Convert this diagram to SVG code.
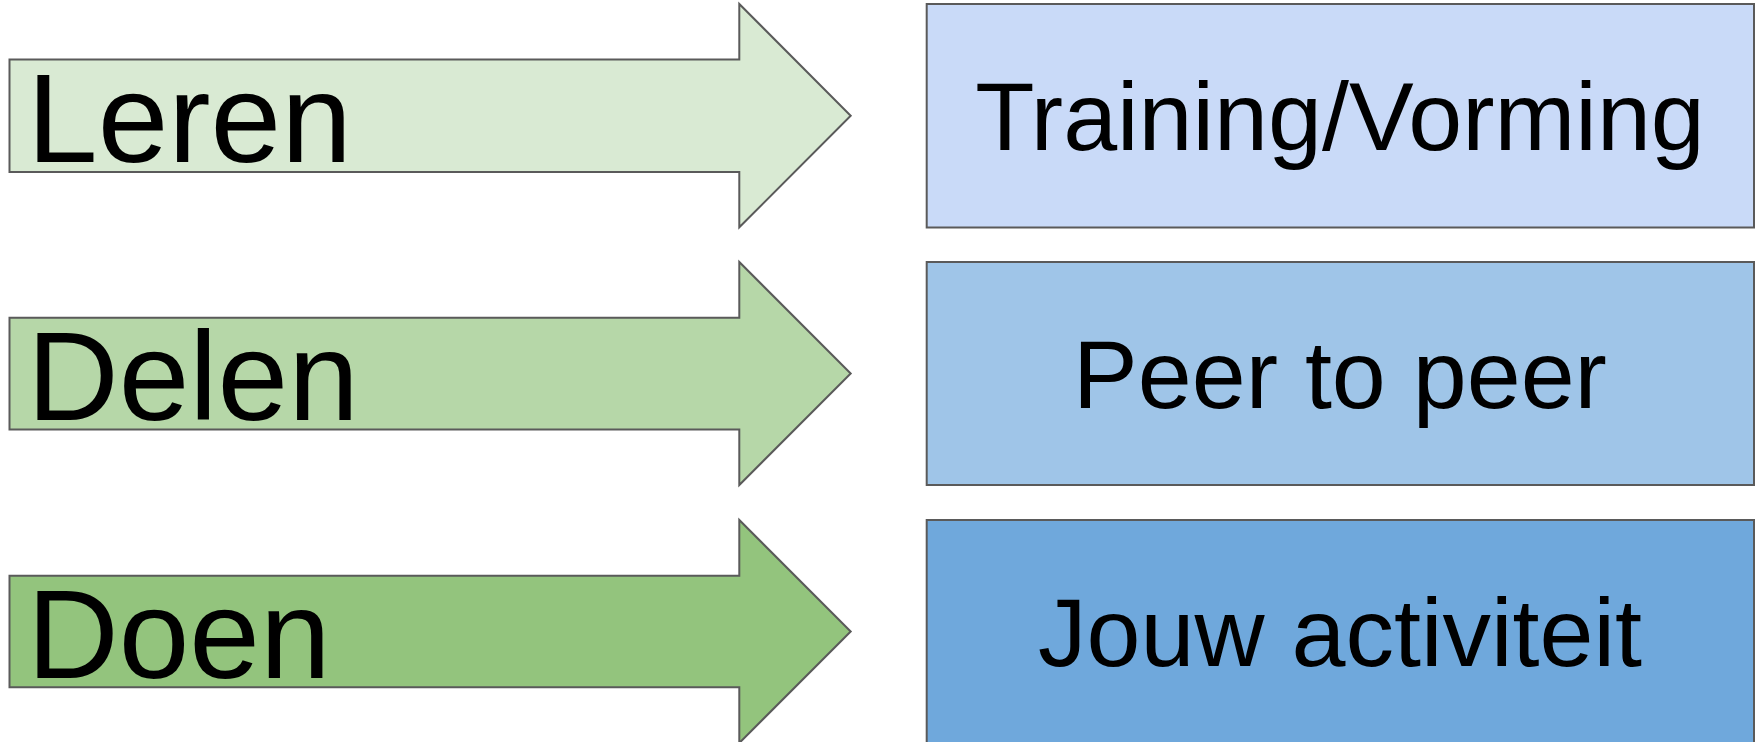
<svg xmlns="http://www.w3.org/2000/svg" width="1758" height="742" viewBox="0 0 1758 742">
<style>
.shape{stroke:#5a5a5a;stroke-width:2;stroke-linejoin:miter}
.big{font-family:"Liberation Sans",Arial,sans-serif;font-size:127px;fill:#000}
.mid{font-family:"Liberation Sans",Arial,sans-serif;font-size:97px;fill:#000;text-anchor:middle}
</style>
<rect width="1758" height="742" fill="#ffffff"/>
<g id="arrow-leren">
<polygon class="shape" fill="#d9ead3" points="9.5,59.5 739.3,59.5 739.3,4 850.7,115.7 739.3,227.3 739.3,172 9.5,172"/>
<text class="big" x="27" y="162">Leren</text>
</g>
<g id="arrow-delen">
<polygon class="shape" fill="#b6d7a8" points="9.5,317.7 739.3,317.7 739.3,262 850.7,373.5 739.3,485 739.3,429.5 9.5,429.5"/>
<text class="big" x="27" y="420">Delen</text>
</g>
<g id="arrow-doen">
<polygon class="shape" fill="#93c47d" points="9.5,575.7 739.3,575.7 739.3,520 850.7,631.5 739.3,743 739.3,687.3 9.5,687.3"/>
<text class="big" x="27" y="678">Doen</text>
</g>
<g id="box-training">
<rect class="shape" fill="#c9daf8" x="926.7" y="4" width="827.3" height="223.5"/>
<text class="mid" x="1340" y="150">Training/Vorming</text>
</g>
<g id="box-peer">
<rect class="shape" fill="#9fc5e8" x="926.7" y="262" width="827.3" height="223"/>
<text class="mid" x="1340" y="408">Peer to peer</text>
</g>
<g id="box-jouw">
<rect class="shape" fill="#6fa8dc" x="926.7" y="520" width="827.3" height="224"/>
<text class="mid" x="1340" y="666">Jouw activiteit</text>
</g>
<g id="connectors"></g>
</svg>
